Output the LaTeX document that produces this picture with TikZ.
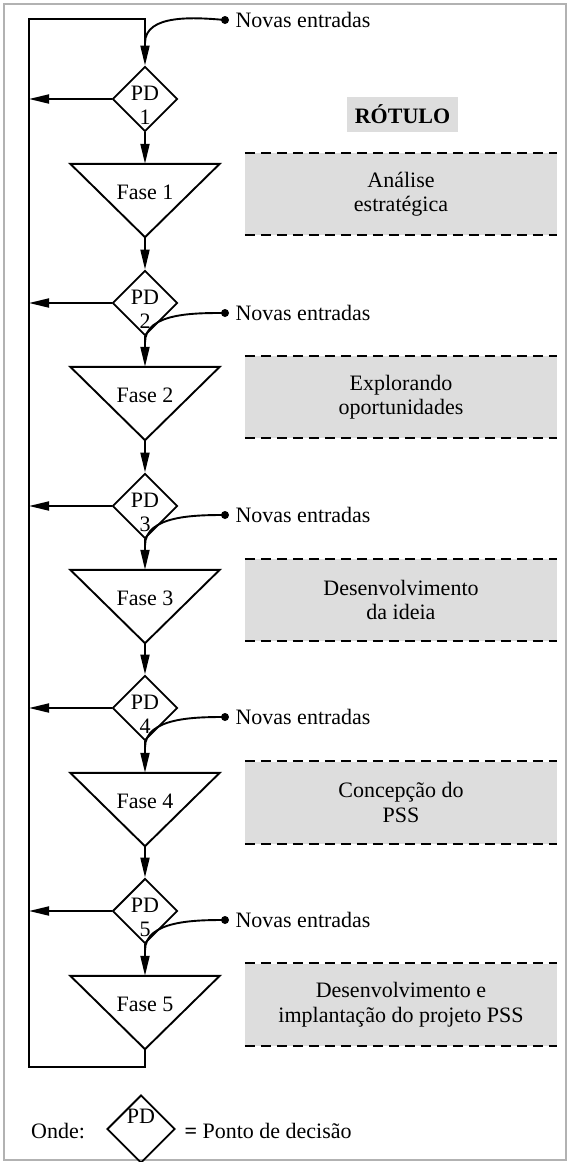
\documentclass[tikz,border=0pt]{standalone}
\usepackage{fontspec}
\setmainfont{Liberation Serif}
\usetikzlibrary{shapes.geometric,arrows.meta}
\definecolor{boxgray}{RGB}{221,221,221}

\begin{document}
\begin{tikzpicture}
        [
            x=1pt, y=-1pt,
            every node/.style={font=\fontsize{22}{24.5}\selectfont},
            line/.style={line width=1.9pt},
            flow/.style={line width=1.9pt, -{Triangle[length=20pt,width=9pt]}},
            pd/.style={diamond, draw, line width=1.9pt, minimum size=65pt, inner sep=0pt},
            fase/.style={minimum width=149pt, minimum height=73pt, inner sep=0pt},
            rotulo/.style={fill=boxgray, minimum width=312pt, minimum height=82pt, inner sep=0pt, align=center},
            dashline/.style={line width=2.2pt, dash pattern=on 10pt off 6pt},
            dot/.style={circle, fill, minimum size=8pt, inner sep=0pt}
        ]
        \useasboundingbox (0,0) rectangle (568,1162);
        \draw[gray!60, line width=1.2pt] (4,4) rectangle (566,1160);

        % decision points
        \node[pd, label={[align=center, yshift=-6.5pt]center:PD\\1}] (pd1) at (145,99) {};
        \node[pd, label={[align=center, yshift=-6.5pt]center:PD\\2}] (pd2) at (145,303) {};
        \node[pd, label={[align=center, yshift=-6.5pt]center:PD\\3}] (pd3) at (145,506) {};
        \node[pd, label={[align=center, yshift=-6.5pt]center:PD\\4}] (pd4) at (145,708) {};
        \node[pd, label={[align=center, yshift=-6.5pt]center:PD\\5}] (pd5) at (145,911) {};

        % phases
        \node[fase] (f1) at (145,200.5) {};
        \node[fase] (f2) at (145,403.5) {};
        \node[fase] (f3) at (145,606.5) {};
        \node[fase] (f4) at (145,809.5) {};
        \node[fase] (f5) at (145,1012.5) {};
        \draw[line] (f1.north west) -- (f1.north east) -- (f1.south) -- cycle;
        \draw[line] (f2.north west) -- (f2.north east) -- (f2.south) -- cycle;
        \draw[line] (f3.north west) -- (f3.north east) -- (f3.south) -- cycle;
        \draw[line] (f4.north west) -- (f4.north east) -- (f4.south) -- cycle;
        \draw[line] (f5.north west) -- (f5.north east) -- (f5.south) -- cycle;
        \node (t1) at ([yshift=-29pt]f1.north) {Fase 1};
        \node (t2) at ([yshift=-29pt]f2.north) {Fase 2};
        \node (t3) at ([yshift=-29pt]f3.north) {Fase 3};
        \node (t4) at ([yshift=-29pt]f4.north) {Fase 4};
        \node (t5) at ([yshift=-29pt]f5.north) {Fase 5};

        % main flow
        \coordinate (loopbl) at (29,1067);
        \coordinate (looptl) at (29,19);
        \draw[flow] (pd1.south) -- (f1.north);
        \draw[flow] (f1.south) -- (pd2.north);
        \draw[flow] (pd2.south) -- (f2.north);
        \draw[flow] (f2.south) -- (pd3.north);
        \draw[flow] (pd3.south) -- (f3.north);
        \draw[flow] (f3.south) -- (pd4.north);
        \draw[flow] (pd4.south) -- (f4.north);
        \draw[flow] (f4.south) -- (pd5.north);
        \draw[flow] (pd5.south) -- (f5.north);
        \draw[flow] (f5.south) |- (loopbl) -- (looptl) -| (pd1.north);

        % back to the start
        \draw[flow] (pd1.west) -- (pd1.west -| looptl);
        \draw[flow] (pd2.west) -- (pd2.west -| looptl);
        \draw[flow] (pd3.west) -- (pd3.west -| looptl);
        \draw[flow] (pd4.west) -- (pd4.west -| looptl);
        \draw[flow] (pd5.west) -- (pd5.west -| looptl);

        % new inputs
        \node[dot] (n1) at (225,20) {};
        \node[dot] (n2) at (225,313) {};
        \node[dot] (n3) at (225,515) {};
        \node[dot] (n4) at (225,717) {};
        \node[dot] (n5) at (225,920) {};
        \node[anchor=west] (e1) at (232,20) {Novas entradas};
        \node[anchor=west] (e2) at (232,313) {Novas entradas};
        \node[anchor=west] (e3) at (232,515) {Novas entradas};
        \node[anchor=west] (e4) at (232,717) {Novas entradas};
        \node[anchor=west] (e5) at (232,920) {Novas entradas};
        \coordinate (m1) at (145,43);
        \coordinate (m2) at (145,342.5);
        \coordinate (m3) at (145,545.5);
        \coordinate (m4) at (145,747.5);
        \coordinate (m5) at (145,950.5);
        \draw[line] (n1.center) to [out=175, in=90, looseness=0.9] (m1);
        \draw[line] (n2.center) to [out=180, in=90, looseness=0.9] (m2);
        \draw[line] (n3.center) to [out=180, in=90, looseness=0.9] (m3);
        \draw[line] (n4.center) to [out=180, in=90, looseness=0.9] (m4);
        \draw[line] (n5.center) to [out=180, in=90, looseness=0.9] (m5);

        % labels on the right
        \node[fill=boxgray, minimum width=111pt, minimum height=35pt, font=\fontsize{22}{24.5}\selectfont\bfseries] (head) at (402.5,114.5) {RÓTULO};
        \node[rotulo] (r1) at (401,194) {Análise\\estratégica};
        \node[rotulo] (r2) at (401,397) {Explorando\\oportunidades};
        \node[rotulo] (r3) at (401,600) {Desenvolvimento\\da ideia};
        \node[rotulo] (r4) at (401,802.5) {Concepção do\\PSS};
        \node[rotulo] (r5) at (401,1004.5) {Desenvolvimento e\\implantação do projeto PSS};
        \draw[dashline] (r1.north west) -- (r1.north east);
        \draw[dashline] (r1.south west) -- (r1.south east);
        \draw[dashline] (r2.north west) -- (r2.north east);
        \draw[dashline] (r2.south west) -- (r2.south east);
        \draw[dashline] (r3.north west) -- (r3.north east);
        \draw[dashline] (r3.south west) -- (r3.south east);
        \draw[dashline] (r4.north west) -- (r4.north east);
        \draw[dashline] (r4.south west) -- (r4.south east);
        \draw[dashline] (r5.north west) -- (r5.north east);
        \draw[dashline] (r5.south west) -- (r5.south east);

        % legend
        \node (onde) at (58,1131) {Onde:};
        \node[pd, minimum size=68pt, label={[yshift=13pt]center:PD}] (pdkey) at (141,1129) {};
        \node[anchor=west] (key) at (181,1131) {{\bfseries =} Ponto de decisão};

    \end{tikzpicture}
\end{document}
